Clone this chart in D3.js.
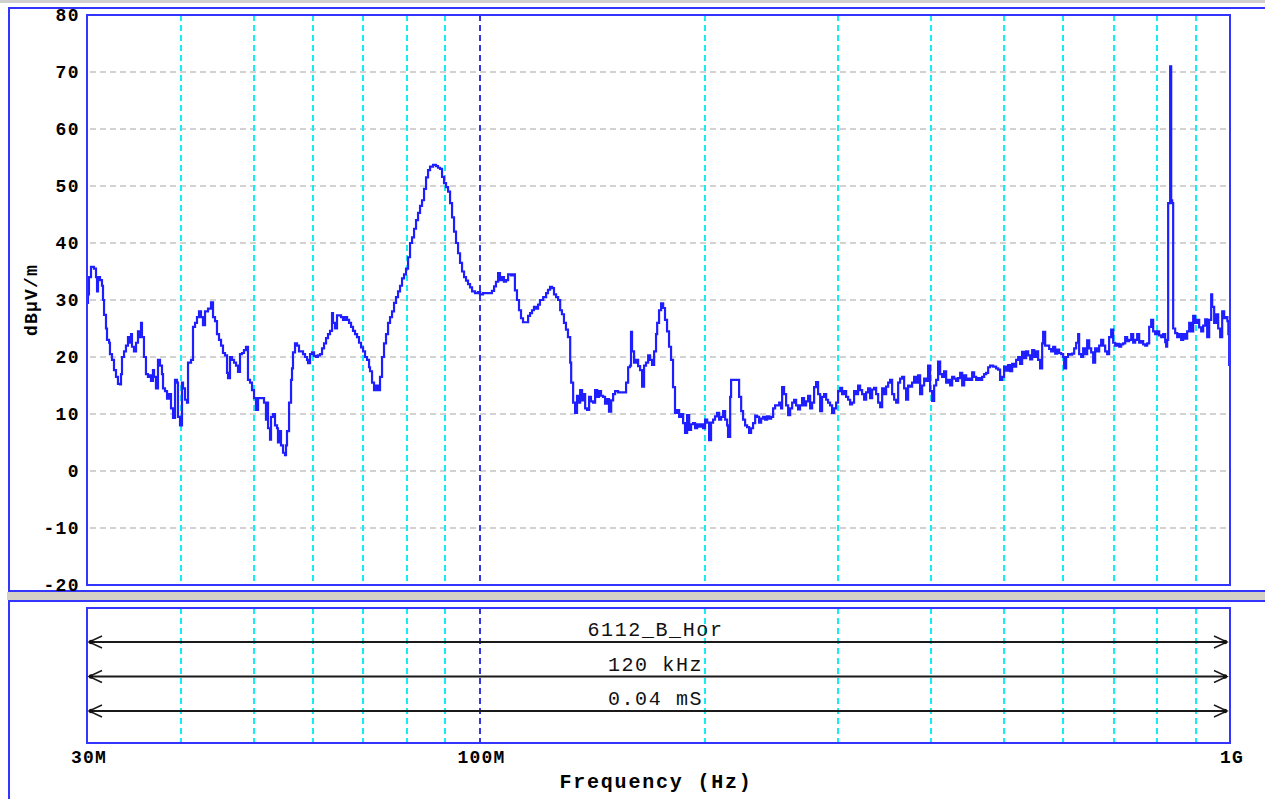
<!DOCTYPE html>
<html>
<head>
<meta charset="utf-8">
<script src="https://cdn.jsdelivr.net/npm/d3@7/dist/d3.min.js"></script>
<style>
    body { margin: 0; background: #fff; }
    svg { display: block; }
</style>
</head>
<body>
<div id="chart"></div>
<script>

// level axis (dBuV/m)
var yTicks = [80, 70, 60, 50, 40, 30, 20, 10, 0, -10, -20];

// frequency grid (MHz)
var xGridMHz = [40, 50, 60, 70, 80, 90, 200, 300, 400, 500, 600, 700, 800, 900];
var xDecadeMHz = [100];
var xTickMHz = [30, 100, 1000];
var xTickText = ["30M", "100M", "1G"];

var legendRows = ["6112_B_Hor", "120 kHz", "0.04 mS"];

// scan trace: [frequency MHz, level dBuV/m]
var scan = [
    [30.00,29.5],[30.09,31],[30.18,34],[30.37,35.8],[30.65,35.5],[30.84,34],
    [30.94,31.5],[31.03,34],[31.22,33.5],[31.41,32.5],[31.51,30],[31.61,27.4],[31.80,25],
    [31.90,23],[32.10,22.5],[32.19,20.5],[32.39,19.5],[32.59,17.7],[32.79,16.5],
    [32.99,15.3],[33.20,15.2],[33.30,17],[33.40,20],[33.61,21],[33.81,22],
    [34.02,23.5],[34.13,22.5],[34.34,24],[34.44,21.8],[34.65,21],[34.87,22.5],
    [35.08,24.5],[35.30,23.5],[35.41,26],[35.51,23.5],[35.73,20],[35.95,17],
    [36.17,16.5],[36.40,16.8],[36.51,15.8],[36.73,17.7],[36.85,16.5],[37.07,14.5],
    [37.30,19.5],[37.53,18.5],[37.76,17],[37.88,14.5],[38.11,14],
    [38.35,12.7],[38.58,13.5],[38.82,11],[39.06,9.3],[39.30,16],
    [39.54,15.5],[39.66,9.5],[39.91,8],[40.15,15.5],[40.28,14.5],[40.52,12.5],
    [40.77,12],[40.90,19],[41.28,19.5],[41.53,25.3],[41.79,26],
    [42.04,27],[42.30,28],[42.56,27],[42.82,25.6],[43.09,28],
    [43.49,28.5],[43.89,29.6],[44.16,27],[44.43,26.3],
    [44.70,24],[44.98,23],[45.26,22],[45.53,20.7],[45.81,20.3],
    [46.10,17.2],[46.24,16.3],[46.52,20],[46.81,19.5],[47.10,19],[47.39,18.5],
    [47.68,17.4],[47.97,20.5],[48.27,20.7],[48.56,21.2],[48.86,21.8],
    [49.16,16],[49.47,15.5],[49.77,14.2],[50.08,12.8],[50.38,10.7],
    [50.70,12.8],[51.32,12.8],[51.64,12],[51.95,9],
    [52.12,12],[52.28,7.5],[52.60,5.5],[52.76,9.5],[53.08,10],[53.41,8],
    [53.74,7.5],[53.90,5],[54.24,7],[54.40,4.5],[54.74,3.2],[55.07,2.8],[55.24,4.5],
    [55.41,7],[55.76,12],[56.10,16],[56.27,18],[56.44,20.8],[56.79,22.4],
    [57.14,22],[57.49,21],[57.85,21],[58.20,20.5],[58.56,20],
    [58.92,19.5],[59.10,18.9],[59.47,20.5],[59.83,20.8],[60.20,20.2],[60.57,20],
    [60.94,20.3],[61.32,20.5],[61.70,21.5],[62.08,22.4],[62.46,23.3],
    [62.84,24],[63.23,24.6],[63.62,27.7],[63.81,26],[64.21,25],
    [64.60,27.3],[65.00,27.3],[65.40,27],[65.80,26.5],[66.21,27],
    [66.62,26.5],[67.03,26],[67.44,25.3],[67.85,24.6],[68.27,24],
    [68.69,23.5],[69.11,22.5],[69.54,21.7],[69.97,21],[70.40,20],
    [70.83,19.5],[71.27,18.2],[71.49,17.5],[71.93,15.5],[72.37,14.2],[72.81,15],
    [73.26,14.2],[73.71,16.5],[74.17,20],[74.62,22.4],[75.08,24],
    [75.55,26],[76.01,27],[76.48,28],[76.95,29.5],[77.42,30.5],
    [77.90,31.5],[78.38,32.5],[78.86,33.8],[79.35,34.5],[79.83,35.5],
    [80.33,37.5],[80.82,40],[81.32,41],[81.82,42.5],[82.32,44],
    [82.83,45.3],[83.34,46.5],[83.85,47.5],[84.37,49.5],[84.89,51.5],
    [85.41,52.8],[85.94,53.4],[86.73,53.7],[87.53,53.5],
    [88.07,53.2],[88.61,53],[89.16,51.6],[89.71,50.5],[90.26,49.8],
    [90.82,49],[91.38,47],[91.94,44.5],[92.50,42],[93.07,40],
    [93.65,38.2],[94.22,36.5],[94.80,35],[95.39,34],[95.97,33.4],
    [96.56,32.8],[97.16,32.2],[97.76,31.5],[98.66,31.2],
    [99.57,31.4],[100.2,31],[101.1,31.2],[102.0,31.2],
    [103.0,31.2],[103.9,31.6],[104.6,32.4],[105.2,33.2],
    [105.9,34.7],[106.5,33.5],[107.2,34],[107.8,33.2],[108.5,33.5],
    [109.2,34.5],[110.2,34.3],[110.9,34.5],[111.5,31.7],
    [112.2,30],[112.9,28.2],[113.6,26.8],[114.3,26.1],[115.4,26.1],
    [116.1,27.2],[116.8,27.7],[117.5,28.2],[118.2,28.8],[119.0,28.5],
    [119.7,29.2],[120.4,30],[121.6,30.5],[122.7,31.2],
    [123.4,31.8],[124.2,32.3],[125.0,32.1],[125.7,31],[126.5,30.5],
    [127.3,30],[128.1,28.2],[128.8,27.5],[129.6,26],[130.4,24.8],
    [131.2,23.5],[132.1,19],[132.5,15.5],[133.3,12],[134.1,10.2],
    [134.9,13.2],[135.7,12],[136.2,14.2],[137.0,12.4],[137.8,13.5],[138.3,11],
    [139.1,10.7],[140.0,13],[140.8,12.2],[141.7,12],[142.6,14.2],
    [143.5,13],[144.3,14],[145.2,13.2],[146.1,13],[147.0,11.8],
    [147.9,12.6],[148.8,10.4],[149.8,12.4],[150.7,13.5],[151.6,14],
    [153.0,13.8],[154.4,13.8],[155.8,13.8],[156.8,15.5],
    [157.8,18.2],[158.7,18.5],[159.2,24.4],[159.7,21],[160.7,19],[161.7,19.5],
    [162.7,18.4],[163.7,17.7],[164.7,14.8],[165.7,18.5],[166.7,19],
    [167.8,20.3],[168.8,19.5],[169.8,18.6],[170.9,21],[171.9,24],
    [172.5,26],[173.5,28.2],[174.6,29.4],[175.7,28.6],[176.7,26.5],
    [177.8,24.5],[178.9,21.8],[180.0,19.5],[181.1,14.7],[182.2,10.2],
    [183.4,10.7],[184.5,9.5],[185.6,10],[186.8,8.4],[187.9,6.7],
    [189.1,9.8],[190.3,7.2],[191.4,8.2],[192.6,8.4],[193.8,7.5],
    [195.0,8.2],[196.2,7.8],[197.4,8.2],[198.6,7.5],[199.8,9],
    [201.1,8.5],[202.3,5.4],[203.5,8.5],[204.8,9],[206.0,9.6],
    [207.3,10.2],[208.6,9],[209.9,9.5],[211.2,10.5],[212.5,9],
    [213.8,8],[214.4,6],[215.8,13],[216.4,16],[220.4,16],
    [221.8,13],[223.2,10.5],[224.5,9],[225.9,8],
    [227.3,7.7],[228.7,6.7],[230.1,7.5],[231.5,8.4],[233.0,9.7],
    [234.4,9.5],[235.8,8.5],[237.3,9.2],[238.7,9.5],[240.2,9],
    [241.7,9.6],[243.2,9.2],[244.7,9.5],[246.2,11],[247.7,11.5],
    [249.2,11.5],[250.8,12],[252.3,11],[253.1,14.7],[254.6,13.5],[256.2,11.5],
    [257.8,9.8],[259.4,11],[261.0,12],[262.6,12.5],[264.2,11.5],
    [265.8,10.8],[267.4,11.5],[269.1,12.8],[270.7,11.5],[272.4,12.2],
    [274.1,13.2],[275.8,11],[277.5,12],[279.2,14.7],[280.9,15.6],
    [282.6,13.5],[284.4,10.5],[286.1,13],[287.9,13.5],[289.7,12.5],
    [291.4,12],[293.2,11.5],[295.0,10.2],[296.9,11],[298.7,12],
    [300.5,14],[302.4,14.6],[304.2,13.5],[306.1,14],[308.0,13],
    [309.9,12.5],[311.8,11.7],[313.7,12],[315.6,14],[317.6,13.5],
    [319.5,15],[321.5,14.2],[323.5,13.5],[325.5,12.5],[327.5,13.8],
    [329.5,14.5],[331.5,12.8],[333.6,14.3],[335.6,14.6],[337.7,13.5],
    [339.8,12],[341.9,11.2],[344.0,14.5],[346.1,13.5],[348.2,14.8],
    [350.4,15.5],[352.5,16],[354.7,13.5],[356.9,12.5],[359.1,12],
    [361.3,15.5],[363.5,16.2],[365.7,16.5],[368.0,14.5],[370.2,12.5],
    [372.5,15],[374.8,14.8],[377.1,15.5],[379.4,16.5],[381.8,15.5],
    [384.1,16.8],[386.5,13.5],[388.9,15],[391.3,16.2],[393.7,15.8],
    [396.1,18.5],[398.5,14],[401.0,12.3],[403.5,15],[406.0,16],
    [408.4,19.2],[411.0,17],[413.5,16.5],[416.0,17.5],[418.6,15.5],
    [421.2,16],[423.8,15],[426.4,16.5],[429.0,16.2],[431.6,15.8],
    [434.3,16.3],[437.0,17.2],[439.7,15],[442.4,16.8],[445.1,16],
    [447.8,16.2],[450.6,16],[453.4,17.3],[456.1,16.5],[459.0,16],
    [461.8,16.3],[464.6,16],[467.5,16.5],[470.4,17],[473.3,17.2],
    [476.2,18.2],[479.1,18.5],[483.5,18.3],[488.0,18],
    [491.0,17.8],[494.0,16],[497.1,16.5],[500.1,18.3],[503.2,17.6],
    [506.3,18.6],[509.4,17.5],[512.6,18.8],[515.7,18.3],[518.9,19.5],
    [522.1,20],[525.3,18.8],[528.5,20.9],[531.8,19.8],[535.1,21],
    [538.4,20.3],[541.7,19.6],[545.0,21.2],[548.4,20],[551.7,21],
    [555.1,19.5],[558.5,18],[562.0,22.4],[563.7,24.4],[567.2,22],
    [570.7,22],[574.2,21.4],[577.7,21],[581.3,21.8],[584.9,20.6],
    [588.5,21.3],[592.1,20.7],[595.7,20.5],[599.4,20],[601.2,18],[604.9,20],
    [608.6,20.5],[612.4,20.4],[616.2,20.6],[620.0,21.5],[623.8,22.5],
    [627.6,24],[629.5,20.5],[633.4,20],[637.3,21.5],[641.2,20.5],
    [645.2,22.9],[649.2,21.5],[653.2,20.8],[657.2,19],[661.2,21.5],
    [665.3,21],[669.4,22],[673.5,23],[677.7,22],[681.8,21],
    [686.0,20.5],[690.2,23.5],[694.5,24.8],[698.8,22.5],[703.1,22],
    [707.4,22.3],[711.8,21.8],[716.1,22.2],[720.5,22.4],[725.0,23.5],
    [729.4,22.8],[733.9,23],[738.5,24],[743.0,22.5],[747.6,23],
    [752.2,24],[756.8,22.5],[761.5,22.8],[766.1,22.2],[770.9,22],
    [775.6,22.4],[780.4,25.3],[785.2,26.5],[790.0,24.5],[794.9,24],
    [799.8,24.5],[804.7,23.8],[809.7,23.5],[814.6,24],[819.7,22.6],[822.2,21.8],
    [824.7,23],[827.2,47],[832.3,71],[834.9,47.5],[837.5,47],[840.0,25],[845.2,24.2],
    [850.4,23.5],[855.6,24],[860.9,23],[866.2,24],[871.5,23.2],
    [876.9,24.5],[882.3,26],[887.7,24.5],[893.2,27.2],[898.7,26],
    [904.2,26.5],[909.8,25.2],[915.4,24.5],[921.0,25.5],[926.7,26.6],
    [932.4,23.5],[938.1,26.5],[943.9,31],[946.8,28.8],[952.6,26],[958.5,27.5],
    [964.4,25],[970.3,23.5],[976.3,28],[982.3,26.8],[988.4,27],
    [992.0,26.3],[995.0,24],[997.5,18.6],[1000,18.6]
];


SpectrumChart = function(_parentElement, _data){
    this.parentElement = _parentElement;
    this.data = _data;

    this.initVis();
}


/*
 * Initialize visualization (frames, scales)
 */

SpectrumChart.prototype.initVis = function(){
    var vis = this;

    vis.width = 1265;
    vis.height = 799;

    // plot area
    vis.plot = { left: 87, right: 1230, top: 15, bottom: 585 };
    // info box below the plot
    vis.box = { top: 608, bottom: 743 };

    vis.x = d3.scaleLog()
        .domain([30, 1000])
        .range([vis.plot.left, vis.plot.right]);

    vis.y = d3.scaleLinear()
        .domain([-20, 80])
        .range([vis.plot.bottom, vis.plot.top]);

    vis.row = d3.scaleLinear()
        .domain([0, 1])
        .range([642, 676.5]);

    vis.svg = d3.select(vis.parentElement).append("svg")
        .attr("width", vis.width)
        .attr("height", vis.height);

    vis.blue = "#3434ff";
    vis.cyan = "#14eef0";

    // window-ish frames
    vis.svg.append("rect")
        .attr("x", 0).attr("y", 0)
        .attr("width", vis.width).attr("height", 3)
        .style("fill", "#cfcfcf");

    vis.svg.append("rect")
        .attr("x", 7).attr("y", 592)
        .attr("width", vis.width).attr("height", 8)
        .style("fill", "#d4d0c8");

    vis.svg.append("rect")
        .attr("x", 9).attr("y", 8)
        .attr("width", vis.width).attr("height", 583)
        .style("fill", "none")
        .style("stroke", vis.blue)
        .style("stroke-width", 2);

    vis.svg.append("rect")
        .attr("x", 9).attr("y", 601)
        .attr("width", vis.width).attr("height", 250)
        .style("fill", "none")
        .style("stroke", vis.blue)
        .style("stroke-width", 2);

    vis.wrangleData();
};


/*
 * Data wrangling
 */

SpectrumChart.prototype.wrangleData = function(){
    var vis = this;

    vis.trace = vis.data.map(function(d) {
        return { f: d[0], level: d[1] };
    });

    vis.updateVis();
};


/*
 * The drawing function
 */

SpectrumChart.prototype.updateVis = function(){
    var vis = this;

    // horizontal grid
    vis.svg.selectAll(".hgrid")
        .data(yTicks.slice(1, -1))
        .enter().append("line")
        .attr("class", "hgrid")
        .attr("x1", vis.plot.left + 3)
        .attr("x2", vis.plot.right)
        .attr("y1", function(d) { return vis.y(d); })
        .attr("y2", function(d) { return vis.y(d); })
        .style("stroke", "#c4c4c4")
        .style("stroke-width", 1.5)
        .style("stroke-dasharray", "6,4");

    // vertical grid, both panels
    [[vis.plot.top, vis.plot.bottom], [vis.box.top, vis.box.bottom]].forEach(function(span) {
        vis.svg.selectAll(null)
            .data(xGridMHz)
            .enter().append("line")
            .attr("x1", function(d) { return Math.round(vis.x(d)); })
            .attr("x2", function(d) { return Math.round(vis.x(d)); })
            .attr("y1", span[0])
            .attr("y2", span[1])
            .style("stroke", vis.cyan)
            .style("stroke-width", 2)
            .style("stroke-dasharray", "6,4");

        vis.svg.selectAll(null)
            .data(xDecadeMHz)
            .enter().append("line")
            .attr("x1", function(d) { return Math.round(vis.x(d)) + 1; })
            .attr("x2", function(d) { return Math.round(vis.x(d)) + 1; })
            .attr("y1", span[0])
            .attr("y2", span[1])
            .style("stroke", "#3535e0")
            .style("stroke-width", 2)
            .style("stroke-dasharray", "6,4");
    });

    // the scan
    vis.line = d3.line()
        .x(function(d) { return vis.x(d.f); })
        .y(function(d) { return vis.y(d.level); })
        .curve(d3.curveStepAfter);

    vis.svg.append("path")
        .datum(vis.trace)
        .attr("d", vis.line)
        .style("fill", "none")
        .style("stroke", "#1e1eff")
        .style("stroke-width", 2.2)
        .style("stroke-linejoin", "miter");

    // plot frames
    vis.svg.append("rect")
        .attr("x", vis.plot.left).attr("y", vis.plot.top)
        .attr("width", vis.plot.right - vis.plot.left)
        .attr("height", vis.plot.bottom - vis.plot.top)
        .style("fill", "none")
        .style("stroke", vis.blue)
        .style("stroke-width", 2);

    vis.svg.append("rect")
        .attr("x", vis.plot.left).attr("y", vis.box.top)
        .attr("width", vis.plot.right - vis.plot.left)
        .attr("height", vis.box.bottom - vis.box.top)
        .style("fill", "none")
        .style("stroke", vis.blue)
        .style("stroke-width", 2);

    // y labels
    vis.svg.selectAll(".ylabel")
        .data(yTicks)
        .enter().append("text")
        .attr("class", "ylabel")
        .attr("x", 80)
        .attr("y", function(d) { return vis.y(d); })
        .attr("dy", "0.36em")
        .attr("text-anchor", "end")
        .style("font-family", "'Liberation Mono', 'Courier New', monospace")
        .style("font-weight", "bold")
        .style("font-size", "18px")
        .style("letter-spacing", "1.4px")
        .text(function(d) { return d; });

    vis.svg.append("text")
        .attr("transform", "translate(37," + vis.y(30) + ") rotate(-90)")
        .attr("text-anchor", "middle")
        .style("font-family", "'Liberation Mono', 'Courier New', monospace")
        .style("font-weight", "bold")
        .style("font-size", "18px")
        .style("letter-spacing", "1.2px")
        .text("dBµV/m");

    // x labels
    vis.svg.selectAll(".xlabel")
        .data(xTickMHz)
        .enter().append("text")
        .attr("class", "xlabel")
        .attr("x", function(d) { return vis.x(d) + 2; })
        .attr("y", 763)
        .attr("text-anchor", "middle")
        .style("font-family", "'Liberation Mono', 'Courier New', monospace")
        .style("font-weight", "bold")
        .style("font-size", "18px")
        .style("letter-spacing", "1.2px")
        .text(function(d, i) { return xTickText[i]; });

    vis.svg.append("text")
        .attr("x", 656)
        .attr("y", 788)
        .attr("text-anchor", "middle")
        .style("font-family", "'Liberation Mono', 'Courier New', monospace")
        .style("font-weight", "bold")
        .style("font-size", "20px")
        .style("letter-spacing", "1.8px")
        .text("Frequency (Hz)");

    // info rows with double arrows
    var x0 = vis.x(30) + 2,
        x1 = vis.x(1000) - 3;

    var rows = vis.svg.selectAll(".row")
        .data(legendRows)
        .enter().append("g")
        .attr("class", "row")
        .attr("transform", function(d, i) { return "translate(0," + vis.row(i) + ")"; });

    rows.append("line")
        .attr("x1", x0).attr("x2", x1)
        .attr("y1", 0).attr("y2", 0)
        .style("stroke", "#1a1a1a")
        .style("stroke-width", 2);

    rows.append("path")
        .attr("d", "M" + (x0 + 13) + ",-6L" + x0 + ",0L" + (x0 + 13) + ",6")
        .style("fill", "none")
        .style("stroke", "#1a1a1a")
        .style("stroke-width", 1.5);

    rows.append("path")
        .attr("d", "M" + (x1 - 13) + ",-6L" + x1 + ",0L" + (x1 - 13) + ",6")
        .style("fill", "none")
        .style("stroke", "#1a1a1a")
        .style("stroke-width", 1.5);

    rows.append("circle").attr("cx", x0 + 2).attr("cy", 0).attr("r", 2.2).style("fill", "#111");
    rows.append("circle").attr("cx", x1 - 2).attr("cy", 0).attr("r", 2.2).style("fill", "#111");

    rows.append("text")
        .attr("x", (vis.plot.left + vis.plot.right) / 2 - 3)
        .attr("y", -6)
        .attr("text-anchor", "middle")
        .style("font-family", "'Liberation Mono', 'Courier New', monospace")
        .style("font-size", "20px")
        .style("letter-spacing", "1.6px")
        .style("fill", "#111")
        .text(function(d) { return d; });
};


var chart = new SpectrumChart("#chart", scan);

</script>
</body>
</html>
